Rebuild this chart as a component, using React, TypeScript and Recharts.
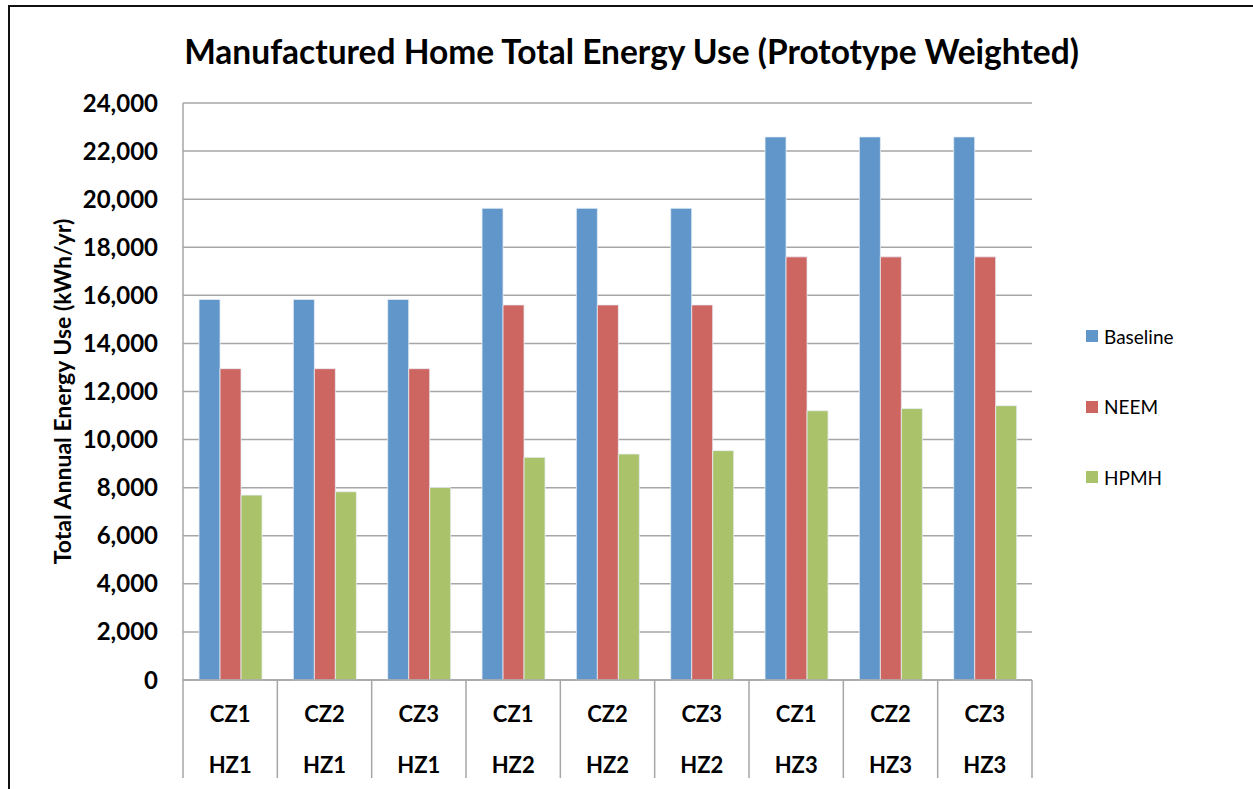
import { BarChart, Bar, XAxis, YAxis, CartesianGrid } from 'recharts';

const climateZones = ['CZ1', 'CZ2', 'CZ3', 'CZ1', 'CZ2', 'CZ3', 'CZ1', 'CZ2', 'CZ3'];
const heatingZones = ['HZ1', 'HZ1', 'HZ1', 'HZ2', 'HZ2', 'HZ2', 'HZ3', 'HZ3', 'HZ3'];

const baseline = [15830, 15830, 15830, 19620, 19620, 19620, 22590, 22590, 22590];
const neem = [12950, 12950, 12950, 15600, 15600, 15600, 17600, 17600, 17600];
const hpmh = [7690, 7830, 8010, 9260, 9400, 9540, 11200, 11290, 11410];

const yTicks = [0, 2000, 4000, 6000, 8000, 10000, 12000, 14000, 16000, 18000, 20000, 22000, 24000];

const seriesInfo = [
  { key: 'baseline', name: 'Baseline', color: '#6096C9' },
  { key: 'neem', name: 'NEEM', color: '#CD6660' },
  { key: 'hpmh', name: 'HPMH', color: '#AAC36B' },
];

const data = climateZones.map((cz, i) => ({
  cat: `${cz}|${heatingZones[i]}`,
  baseline: baseline[i],
  neem: neem[i],
  hpmh: hpmh[i],
}));

const W = 1253;
const H = 789;
const M = { top: 103, right: 221, bottom: 9, left: 83 };
const Y_AXIS_W = 100;
const X_AXIS_H = 100;
const PLOT_LEFT = M.left + Y_AXIS_W;
const PLOT_W = W - PLOT_LEFT - M.right;
const PLOT_BOTTOM = H - M.bottom - X_AXIS_H;
const BAND = PLOT_W / data.length;
const FONT = 'Lato, "Open Sans", sans-serif';

function CategoryTick(props: any) {
  const { x, payload, index } = props;
  const [cz, hz] = String(payload.value).split('|');
  const left = x - BAND / 2;
  const right = x + BAND / 2;
  return (
    <g>
      <line x1={left} y1={PLOT_BOTTOM} x2={left} y2={PLOT_BOTTOM + 98} stroke="#A6A6A6" strokeWidth={1.5} />
      {index === data.length - 1 && (
        <line x1={right} y1={PLOT_BOTTOM} x2={right} y2={PLOT_BOTTOM + 98} stroke="#A6A6A6" strokeWidth={1.5} />
      )}
      <text x={x} y={PLOT_BOTTOM + 42} textAnchor="middle" fontFamily={FONT} fontWeight="bold" fontSize={22} fill="#000">
        {cz}
      </text>
      <text x={x} y={PLOT_BOTTOM + 93} textAnchor="middle" fontFamily={FONT} fontWeight="bold" fontSize={22} fill="#000">
        {hz}
      </text>
    </g>
  );
}

function YLabel(props: any) {
  const { viewBox } = props;
  const cy = viewBox.y + viewBox.height / 2;
  return (
    <text
      x={62}
      y={cy}
      transform={`rotate(-90 62 ${cy})`}
      textAnchor="middle"
      dominantBaseline="central"
      fontFamily={FONT}
      fontWeight="bold"
      fontSize={23}
      fill="#000"
    >
      Total Annual Energy Use (kWh/yr)
    </text>
  );
}

export default function App() {
  return (
    <div style={{ position: 'relative', width: W, height: H, background: '#fff', overflow: 'hidden' }}>
      <style>{'body{margin:0}'}</style>
      <div
        style={{
          position: 'absolute',
          left: 8,
          top: 5,
          width: W,
          height: H,
          borderTop: '2px solid #111',
          borderLeft: '2px solid #111',
        }}
      />
      <div
        style={{
          position: 'absolute',
          left: 0,
          width: 1263,
          top: 31,
          textAlign: 'center',
          fontFamily: FONT,
          fontWeight: 'bold',
          fontSize: 33.5,
          color: '#000',
        }}
      >
        Manufactured Home Total Energy Use (Prototype Weighted)
      </div>
      <div style={{ position: 'absolute', left: 1086, top: 301, fontFamily: FONT, fontSize: 19 }}>
        {seriesInfo.map(s => (
          <div key={s.key} style={{ display: 'flex', alignItems: 'center', height: 70.5 }}>
            <span style={{ width: 12, height: 12, background: s.color, marginRight: 6, display: 'inline-block' }} />
            <span style={{ color: '#000' }}>{s.name}</span>
          </div>
        ))}
      </div>
      <div style={{ position: 'absolute', left: 0, top: 0 }}>
        <BarChart width={W} height={H} data={data} margin={M} barCategoryGap="17%" barGap={0}>
          <CartesianGrid vertical={false} stroke="#A6A6A6" strokeWidth={1.5} />
          <XAxis
            dataKey="cat"
            height={X_AXIS_H}
            interval={0}
            axisLine={{ stroke: '#A6A6A6', strokeWidth: 1.5 }}
            tickLine={false}
            tick={<CategoryTick />}
          />
          <YAxis
            width={Y_AXIS_W}
            domain={[0, 24000]}
            ticks={yTicks}
            interval={0}
            axisLine={{ stroke: '#A6A6A6', strokeWidth: 1.5 }}
            tickLine={false}
            tickSize={0}
            tickMargin={25}
            tickFormatter={(v: number) => v.toLocaleString('en-US')}
            tick={{ fontFamily: FONT, fontWeight: 'bold', fontSize: 24, fill: '#000' }}
            label={<YLabel />}
          />
          {seriesInfo.map(s => (
            <Bar
              key={s.key}
              dataKey={s.key}
              name={s.name}
              fill={s.color}
              stroke="#E8EEF6"
              strokeWidth={0.8}
              isAnimationActive={false}
            />
          ))}
        </BarChart>
      </div>
    </div>
  );
}
